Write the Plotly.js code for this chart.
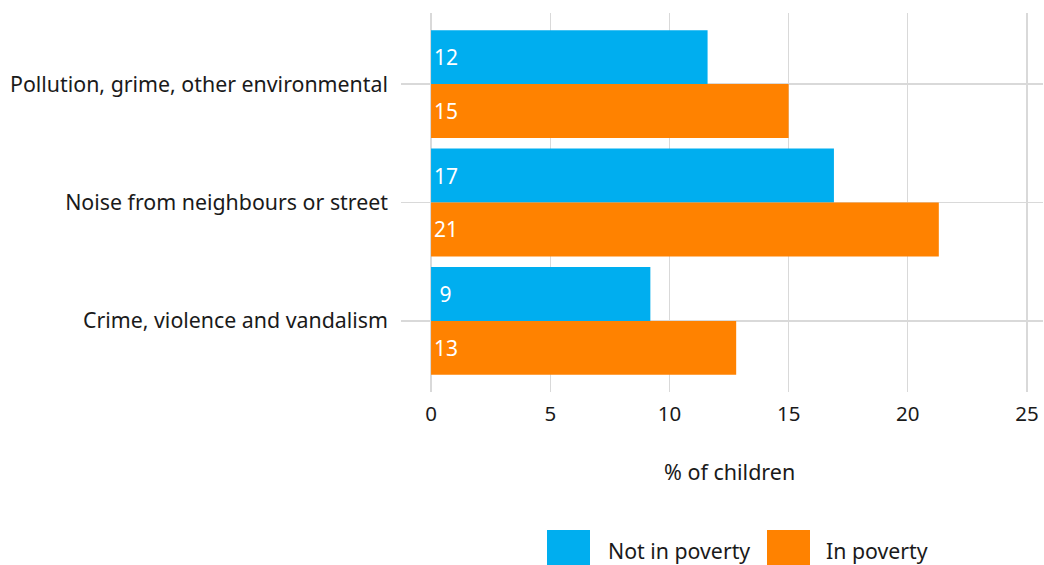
<!DOCTYPE html>
<html>
<head>
<meta charset="utf-8">
<script src="https://cdn.plot.ly/plotly-3.0.1.min.js"></script>
<style>html,body{margin:0;padding:0;background:#fff;}#chart{width:1044px;height:565px;}</style>
</head>
<body>
<div id="chart"></div>
<script>
var categories = ['Pollution, grime, other environmental', 'Noise from neighbours or street', 'Crime, violence and vandalism'];
var notInPoverty = [11.6, 16.9, 9.2];
var inPoverty = [15.0, 21.3, 12.8];
var seriesNames = ['Not in poverty', 'In poverty'];
var colors = ['#00AEEF', '#FF8200'];
var xTicks = [0, 5, 10, 15, 20, 25];

var FONT = 'Noto Sans, Open Sans, sans-serif';

function mk(vals, name, color) {
  return {
    type: 'bar', orientation: 'h', name: name,
    y: categories, x: vals,
    marker: {color: color},
    text: vals.map(function(v){ var s = String(Math.round(v)); return s.length < 2 ? '\u00a0' + s : s; }),
    textposition: 'inside', insidetextanchor: 'start',
    textfont: {color: '#ffffff', size: 21, family: FONT},
    hoverinfo: 'x+y', showlegend: false
  };
}

var data = [mk(notInPoverty, seriesNames[0], colors[0]), mk(inPoverty, seriesNames[1], colors[1])];

var layout = {
  width: 1044, height: 565,
  margin: {l: 401, r: 1, t: 13, b: 173},
  paper_bgcolor: '#ffffff', plot_bgcolor: '#ffffff',
  font: {family: FONT, color: '#1a1a1a', size: 21},
  barmode: 'group', bargap: 0.09, bargroupgap: 0,
  xaxis: {
    range: [-1.26, 25.67], tickvals: xTicks, ticktext: xTicks.map(String),
    showgrid: true, gridcolor: '#d9d9d9', gridwidth: 1.3,
    zeroline: false, showline: false, ticks: '',
    tickfont: {size: 20.5, color: '#1a1a1a'}, ticklabelstandoff: 7
  },
  yaxis: {
    type: 'category', range: [2.6, -0.6],
    showgrid: true, gridcolor: '#d9d9d9', gridwidth: 1.3,
    zeroline: false, showline: false, ticks: '',
    tickfont: {size: 21.35, color: '#1a1a1a'}, ticklabelstandoff: 12
  },
  annotations: [
    {xref: 'x', yref: 'paper', x: 12.5, y: 0, yshift: -79, text: '% of children', showarrow: false,
     font: {size: 21.5, color: '#1a1a1a'}, xanchor: 'center', yanchor: 'middle'},
    {xref: 'paper', yref: 'paper', x: (606 - 401) / 642, y: -(550 - 392) / 379, text: seriesNames[0], showarrow: false,
     font: {size: 21.3, color: '#1a1a1a'}, xanchor: 'left', yanchor: 'middle'},
    {xref: 'paper', yref: 'paper', x: (824 - 401) / 642, y: -(550 - 392) / 379, text: seriesNames[1], showarrow: false,
     font: {size: 21.3, color: '#1a1a1a'}, xanchor: 'left', yanchor: 'middle'}
  ],
  shapes: [
    {type: 'rect', xref: 'paper', yref: 'paper', x0: (547 - 401) / 642, x1: (590 - 401) / 642,
     y0: -(530 - 392) / 379, y1: -(565 - 392) / 379, fillcolor: colors[0], line: {width: 0}},
    {type: 'rect', xref: 'paper', yref: 'paper', x0: (767 - 401) / 642, x1: (810 - 401) / 642,
     y0: -(530 - 392) / 379, y1: -(565 - 392) / 379, fillcolor: colors[1], line: {width: 0}}
  ]
};

Plotly.newPlot('chart', data, layout, {displayModeBar: false, staticPlot: true});
</script>
</body>
</html>
